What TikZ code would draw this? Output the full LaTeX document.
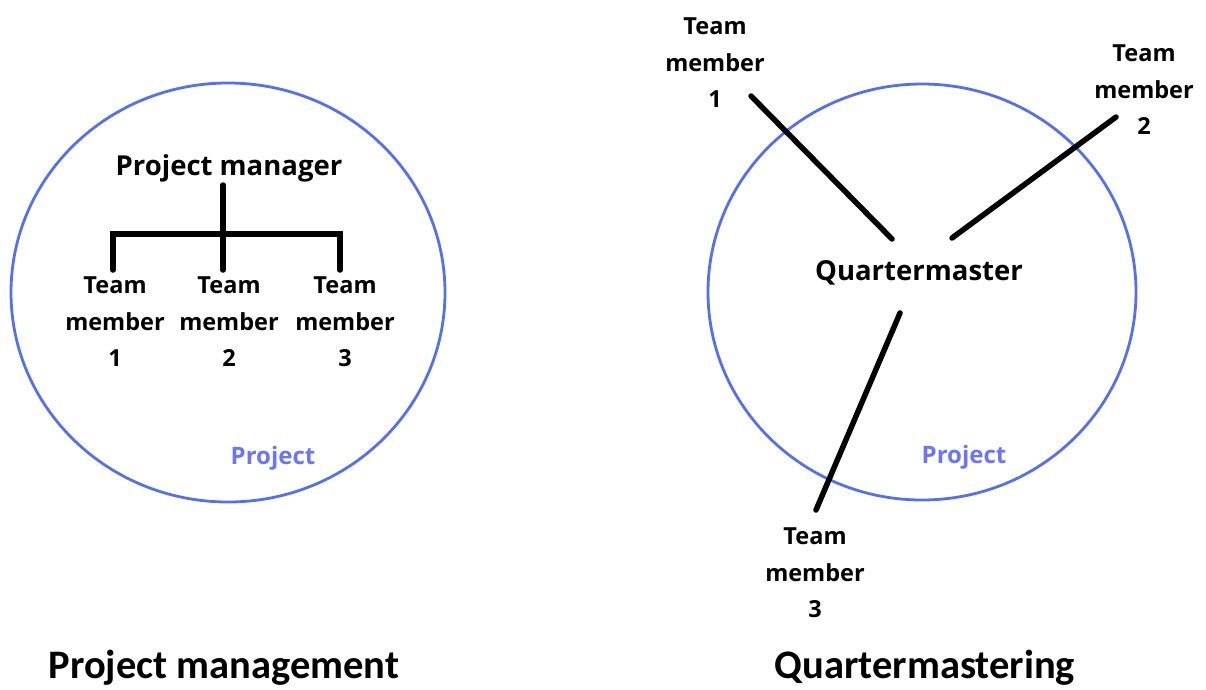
\documentclass[tikz,border=0pt]{standalone}
\usepackage{fontspec}
\setmainfont{Open Sans}
\newfontfamily\titlefont{Carlito}
\usepackage{tikz}

\definecolor{projblue}{RGB}{85,112,232}
\definecolor{projtext}{RGB}{108,118,240}

\tikzset{
  member/.style={align=center, font=\bfseries\fontsize{23.5}{36.5}\selectfont},
  boss/.style={font=\bfseries\fontsize{27.5}{30}\selectfont},
  projlabel/.style={text=projtext, font=\bfseries\fontsize{24}{26}\selectfont},
  headline/.style={font=\titlefont\bfseries\fontsize{40.5}{44}\selectfont},
  link/.style={line width=5.5pt, line cap=round},
  bound/.style={projblue, line width=2.8pt}
}

\begin{document}
\begin{tikzpicture}[x=1pt,y=-1pt]
\useasboundingbox (0,0) rectangle (1206,689);

% project management
\draw[bound] (228,292.5) ellipse [x radius=217, y radius=209.5];
\node[boss, anchor=base] (pm) at (229,175) {Project manager};
\node[member] (m1) at (115,322) {Team\\member\\1};
\node[member] (m2) at (229,322) {Team\\member\\2};
\node[member] (m3) at (345,322) {Team\\member\\3};
\node[projlabel, anchor=base] (p1) at (273,464) {Project};

\coordinate (pmtop) at (223,185);
\coordinate (barL) at (113,234);
\coordinate (barR) at (340,234);
\coordinate (m1top) at (113,270);
\coordinate (m2top) at (223,270);
\coordinate (m3top) at (340,270);
\draw[link] (pmtop) -- (m2top);
\draw[link] (m1top) -- (barL) -- (barR) -- (m3top);

% quartermastering
\draw[bound] (922,292) ellipse [x radius=214, y radius=208];
\node[boss, anchor=base] (qm) at (919,280) {Quartermaster};
\node[member] (q1) at (715,63) {Team\\member\\1};
\node[member] (q2) at (1144,90) {Team\\member\\2};
\node[member] (q3) at (815,573) {Team\\member\\3};
\node[projlabel, anchor=base] (p2) at (964,463) {Project};

\coordinate (q1end) at (751,96);
\coordinate (q1mid) at (892,239);
\coordinate (q2end) at (1116,117);
\coordinate (q2mid) at (952,238);
\coordinate (q3end) at (816,510);
\coordinate (q3mid) at (900,313);
\draw[link] (q1end) -- (q1mid);
\draw[link] (q2end) -- (q2mid);
\draw[link] (q3end) -- (q3mid);

% titles
\node[headline, anchor=base] (t1) at (224,678) {Project management};
\node[headline, anchor=base] (t2) at (925,678) {Quartermastering};
\end{tikzpicture}
\end{document}
